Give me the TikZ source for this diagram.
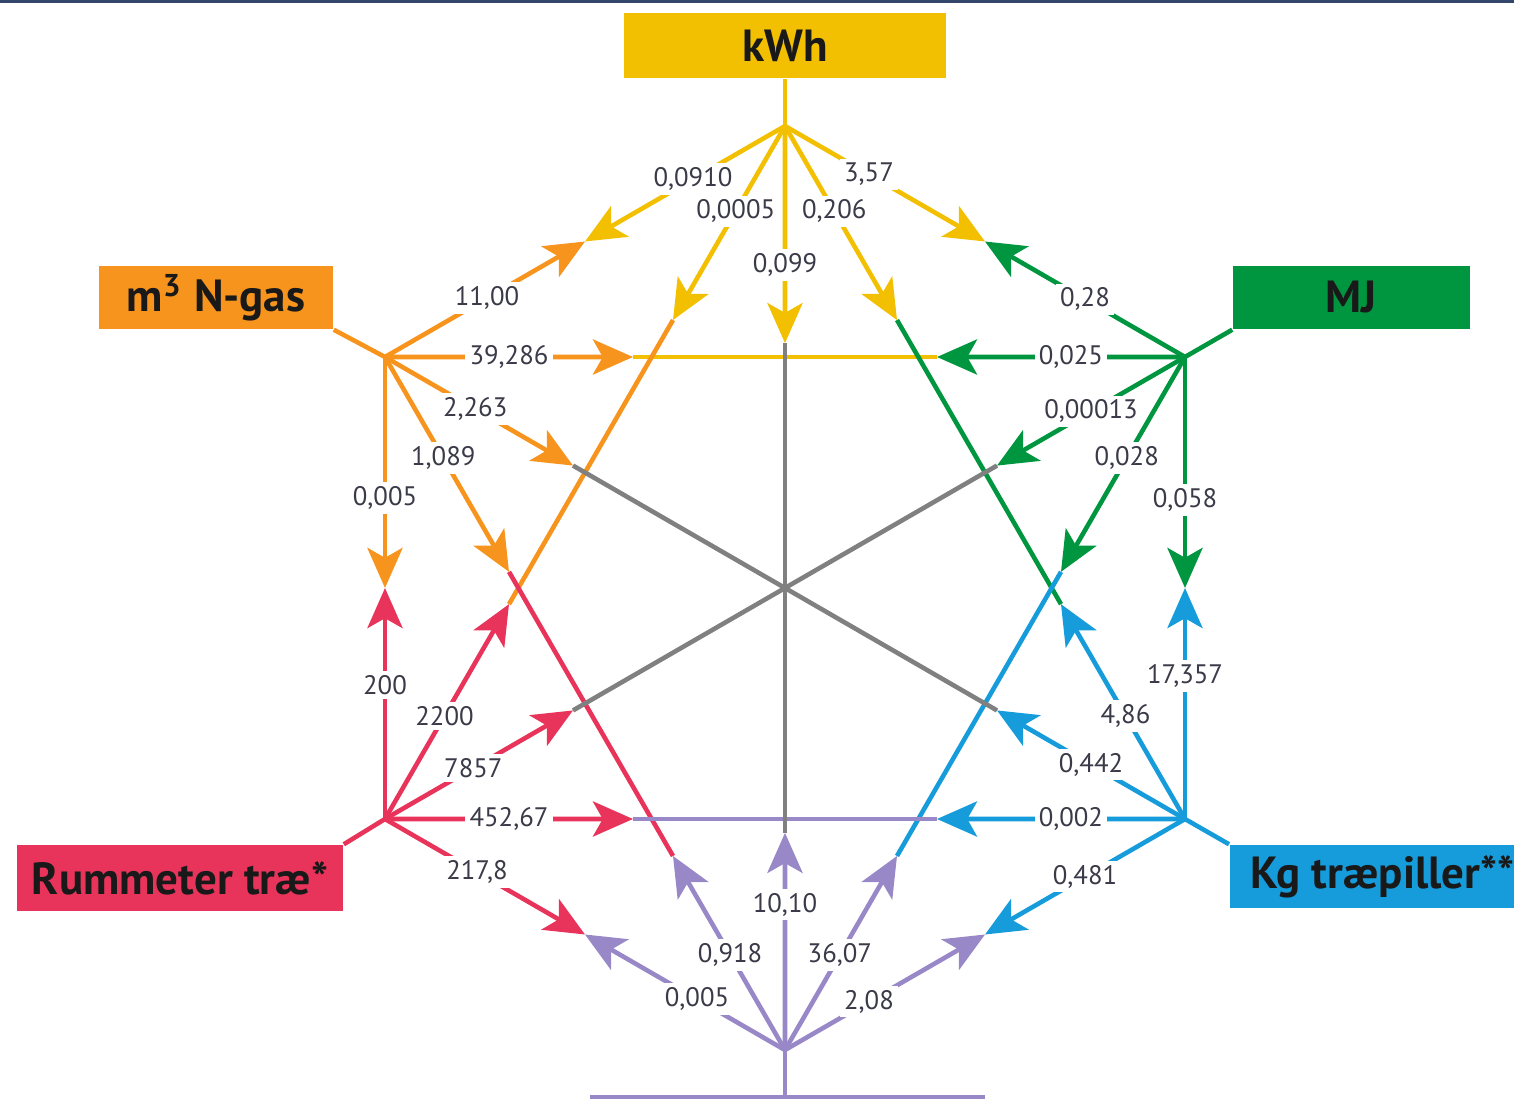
\documentclass[tikz,border=0pt]{standalone}
\usepackage{fontspec}
\setmainfont{PT Sans}
\usetikzlibrary{arrows.meta,calc}
\definecolor{kwhYellow}{RGB}{242,192,0}
\definecolor{gasOrange}{RGB}{247,148,29}
\definecolor{mjGreen}{RGB}{0,150,64}
\definecolor{woodRed}{RGB}{232,52,90}
\definecolor{pelletBlue}{RGB}{22,155,219}
\definecolor{lastPurple}{RGB}{152,136,200}
\definecolor{midGray}{RGB}{128,128,128}
\definecolor{numText}{RGB}{58,58,72}
\definecolor{frameBlue}{RGB}{52,70,107}
\begin{document}
\begin{tikzpicture}[x=0.01cm,y=-0.01cm,
    unitbox/.style={inner sep=0pt,text=black!90,font=\fontsize{12.8}{15}\selectfont\bfseries},
    conv/.style={line width=1.3pt,-{Stealth[length=11.4pt,width=10pt,inset=2.8pt]}},
    rate/.style={fill=white,inner sep=1.2pt,text=numText,font=\fontsize{7.6}{9}\selectfont}]
  \useasboundingbox (0,0) rectangle (1514,1106);
  \clip (0,0) rectangle (1514,1106);
  \fill[frameBlue] (0,0) rectangle (1514,3);

  % Hubs: one corner of the hexagon per unit
  \coordinate (kwh) at (785,126);
  \coordinate (ngas) at (385,357);
  \coordinate (mj) at (1185,357);
  \coordinate (rum) at (385,819);
  \coordinate (kg) at (1185,819);
  \coordinate (bot) at (785,1050);
  \coordinate (botL) at (590,1097);
  \coordinate (botR) at (985,1097);

  % Unit boxes
  \node[unitbox,fill=kwhYellow,minimum width=3.21cm,minimum height=0.65cm] (kwhBox) at (785,45.5) {kWh};
  \node[unitbox,fill=gasOrange,minimum width=2.34cm,minimum height=0.63cm] (gasBox) at (216,297.5) {m\textsuperscript{3} N-gas};
  \node[unitbox,fill=mjGreen,minimum width=2.37cm,minimum height=0.63cm] (mjBox) at (1351.5,297.5) {MJ};
  \node[unitbox,fill=woodRed,minimum width=3.26cm,minimum height=0.66cm] (rumBox) at (180,878) {Rummeter træ*};
  \node[unitbox,fill=pelletBlue,minimum height=0.63cm,anchor=west,inner xsep=0.21cm] (kgBox) at (1229,876.5) {Kg træpiller**};

  % Box to hub
  \draw[kwhYellow,line width=1.3pt] (kwhBox.south) -- (kwh);
  \draw[gasOrange,line width=1.3pt] (gasBox.south east) -- (ngas);
  \draw[mjGreen,line width=1.3pt] (mjBox.south west) -- (mj);
  \draw[woodRed,line width=1.3pt] (rumBox.north east) -- (rum);
  \draw[pelletBlue,line width=1.3pt] (kgBox.north west) -- (kg);
  \draw[lastPurple,line width=1.3pt] (bot) -- (bot |- botL);
  \draw[lastPurple,line width=1.3pt] (botL) -- (botR);

  % Middle pieces between two arrow tips (from a, from b)
  \foreach \a/\b/\fa/\fb/\col in {ngas/mj/0.31/0.31/kwhYellow, kwh/rum/0.28/0.31/gasOrange,
      kwh/kg/0.28/0.31/mjGreen, ngas/bot/0.31/0.28/woodRed, mj/bot/0.31/0.28/pelletBlue,
      rum/kg/0.31/0.31/lastPurple, kwh/bot/0.235/0.235/midGray,
      ngas/kg/0.235/0.235/midGray, mj/rum/0.235/0.235/midGray}{
    \draw[\col,line width=1.3pt] ($(\a)!\fa!(\b)$) -- ($(\b)!\fb!(\a)$);
  }

  % Notation: {from, to, how far, factor, where the factor sits, colour}
  \def\convData{
    kwh/ngas/0.5/{0,0910}/0.46/kwhYellow, kwh/mj/0.5/{3,57}/0.42/kwhYellow,
    kwh/rum/0.28/{0,0005}/0.44/kwhYellow, kwh/kg/0.28/{0,206}/0.44/kwhYellow,
    kwh/bot/0.235/{0,099}/0.64/kwhYellow,
    ngas/kwh/0.5/{11,00}/0.51/gasOrange, ngas/mj/0.31/{39,286}/0.5/gasOrange,
    ngas/kg/0.235/{2,263}/0.48/gasOrange, ngas/bot/0.31/{1,089}/0.47/gasOrange,
    ngas/rum/0.5/{0,005}/0.61/gasOrange,
    mj/kwh/0.5/{0,28}/0.5/mjGreen, mj/ngas/0.31/{0,025}/0.46/mjGreen,
    mj/rum/0.235/{0,00013}/0.5/mjGreen, mj/bot/0.31/{0,028}/0.47/mjGreen,
    mj/kg/0.5/{0,058}/0.62/mjGreen,
    rum/ngas/0.5/{200}/0.58/woodRed, rum/kwh/0.31/{2200}/0.48/woodRed,
    rum/mj/0.235/{7857}/0.47/woodRed, rum/kg/0.31/{452,67}/0.5/woodRed,
    rum/bot/0.5/{217,8}/0.46/woodRed,
    kg/mj/0.5/{17,357}/0.62/pelletBlue, kg/kwh/0.31/{4,86}/0.48/pelletBlue,
    kg/ngas/0.235/{0,442}/0.5/pelletBlue, kg/rum/0.31/{0,002}/0.46/pelletBlue,
    kg/bot/0.5/{0,481}/0.5/pelletBlue,
    bot/rum/0.5/{0,005}/0.44/lastPurple, bot/ngas/0.28/{0,918}/0.49/lastPurple,
    bot/kwh/0.235/{10,10}/0.67/lastPurple, bot/mj/0.28/{36,07}/0.49/lastPurple,
    bot/kg/0.5/{2,08}/0.42/lastPurple}

  % Draw the arrows
  \foreach \h/\t/\f/\l/\p/\c in \convData{
    \draw[conv,\c] (\h) -- ($(\h)!\f!(\t)$);
  }
  % Put the factors on top
  \foreach \h/\t/\f/\l/\p/\c in \convData{
    \path (\h) -- ($(\h)!\f!(\t)$) node[rate,pos=\p] (rate-\h-\t) {\l};
  }
\end{tikzpicture}
\end{document}
